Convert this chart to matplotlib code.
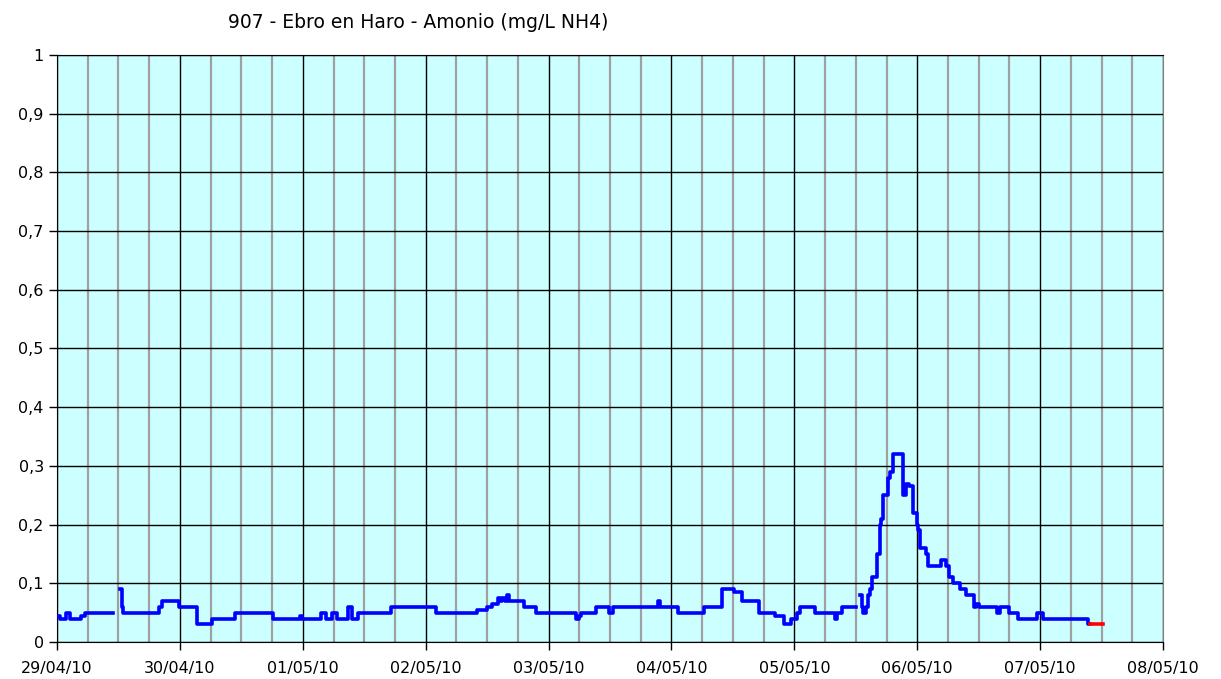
import datetime as dt
import numpy as np
import matplotlib
matplotlib.use("Agg")
import matplotlib.pyplot as plt
import matplotlib.dates as mdates
from matplotlib.ticker import FuncFormatter, MultipleLocator

# hours since 29/04/10 00:00, value (mg/L NH4); steps-post change points, NaN = gap
hours = [0.0, 0.6, 1.7, 2.5, 4.6, 5.4, 10.3,
         11.0,
         12.3, 12.6, 12.9, 19.9, 20.6, 23.8, 27.3, 30.2, 34.8, 42.1, 47.5, 47.9,
         51.6, 52.5, 53.7, 54.6, 56.9, 57.6, 58.8, 65.3, 74.0, 82.1, 84.0, 85.0,
         86.2, 86.6, 87.0, 87.4, 87.8, 88.3, 91.2, 93.6, 101.4, 101.9, 102.3,
         105.2, 107.9, 108.5, 117.3, 117.8, 121.2, 126.4, 129.9, 132.3, 133.8,
         137.1, 140.3, 141.9, 143.3, 144.6, 145.1, 148.0, 151.9, 152.3, 153.3, 155.3,
         156.0,
         156.8, 157.2, 157.4, 158.0, 158.4, 158.8, 159.1, 160.1, 160.7, 161.0,
         161.3, 162.2, 162.6, 163.3, 165.2, 165.8, 166.3, 167.1, 167.9, 168.2,
         168.5, 169.7, 170.2, 172.7, 173.6, 174.3, 175.0, 176.3, 177.6, 179.1,
         179.5, 180.0, 183.6, 184.2, 186.0, 187.7, 191.3, 192.5, 201.3, 201.7]
values = [0.045, 0.04, 0.05, 0.04, 0.045, 0.05, 0.05,
          np.nan,
          0.09, 0.06, 0.05, 0.06, 0.07, 0.06, 0.03, 0.04, 0.05, 0.04, 0.045, 0.04,
          0.05, 0.04, 0.05, 0.04, 0.06, 0.04, 0.05, 0.06, 0.05, 0.055, 0.06, 0.065,
          0.075, 0.07, 0.075, 0.07, 0.08, 0.07, 0.06, 0.05, 0.04, 0.045, 0.05,
          0.06, 0.05, 0.06, 0.07, 0.06, 0.05, 0.06, 0.09, 0.085, 0.07,
          0.05, 0.045, 0.03, 0.04, 0.05, 0.06, 0.05, 0.04, 0.05, 0.06, 0.06,
          np.nan,
          0.08, 0.06, 0.05, 0.06, 0.08, 0.09, 0.11, 0.15, 0.20, 0.21,
          0.25, 0.28, 0.29, 0.32, 0.25, 0.27, 0.265, 0.22, 0.20, 0.19,
          0.16, 0.15, 0.13, 0.14, 0.13, 0.11, 0.10, 0.09, 0.08, 0.06,
          0.065, 0.06, 0.05, 0.06, 0.05, 0.04, 0.05, 0.04, 0.03, 0.03]

# last stretch drawn in red
red_hours = [201.7, 204.3]
red_values = [0.03, 0.03]

start = dt.datetime(2010, 4, 29)
t = [start + dt.timedelta(hours=h) for h in hours]
t_red = [start + dt.timedelta(hours=h) for h in red_hours]

fig = plt.figure(figsize=(12.21, 6.79), dpi=100)
ax = fig.add_axes([57/1221, 1 - 642/679, (1163 - 57)/1221, (642 - 55)/679])
ax.set_facecolor('#ccffff')

ax.plot(t, values, color='#0000ff', linewidth=2.6, drawstyle='steps-post', zorder=3)
ax.plot(t_red, red_values, color='#ff0000', linewidth=2.6, zorder=3)

ax.set_xlim(start, start + dt.timedelta(days=9))
ax.set_ylim(0, 1)

ax.xaxis.set_major_locator(mdates.DayLocator())
ax.xaxis.set_major_formatter(mdates.DateFormatter('%d/%m/%y'))
ax.xaxis.set_minor_locator(mdates.HourLocator(byhour=[6, 12, 18]))
ax.yaxis.set_major_locator(MultipleLocator(0.1))
ax.yaxis.set_major_formatter(FuncFormatter(
    lambda v, p: '0' if abs(v) < 1e-9 else ('1' if abs(v - 1) < 1e-9 else f'{v:.1f}'.replace('.', ','))))

ax.grid(True, which='minor', axis='x', color='#a0a0a0', linewidth=1.6)
ax.grid(True, which='major', axis='x', color='black', linewidth=1.0)
ax.grid(True, which='major', axis='y', color='black', linewidth=1.0)
ax.set_axisbelow(True)

ax.tick_params(axis='both', which='major', direction='out', length=6, width=1,
               labelsize=11.5, colors='black')
ax.tick_params(axis='x', which='minor', length=0)
ax.tick_params(axis='x', pad=8)
ax.spines['right'].set_color('#808080')
for s in ['left', 'bottom', 'top']:
    ax.spines[s].set_color('black')

fig.text(418/1221, 1 - 22/679, '907 - Ebro en Haro - Amonio (mg/L NH4)',
         ha='center', va='center', fontsize=13.5)

fig.savefig('out.png', dpi=100)
